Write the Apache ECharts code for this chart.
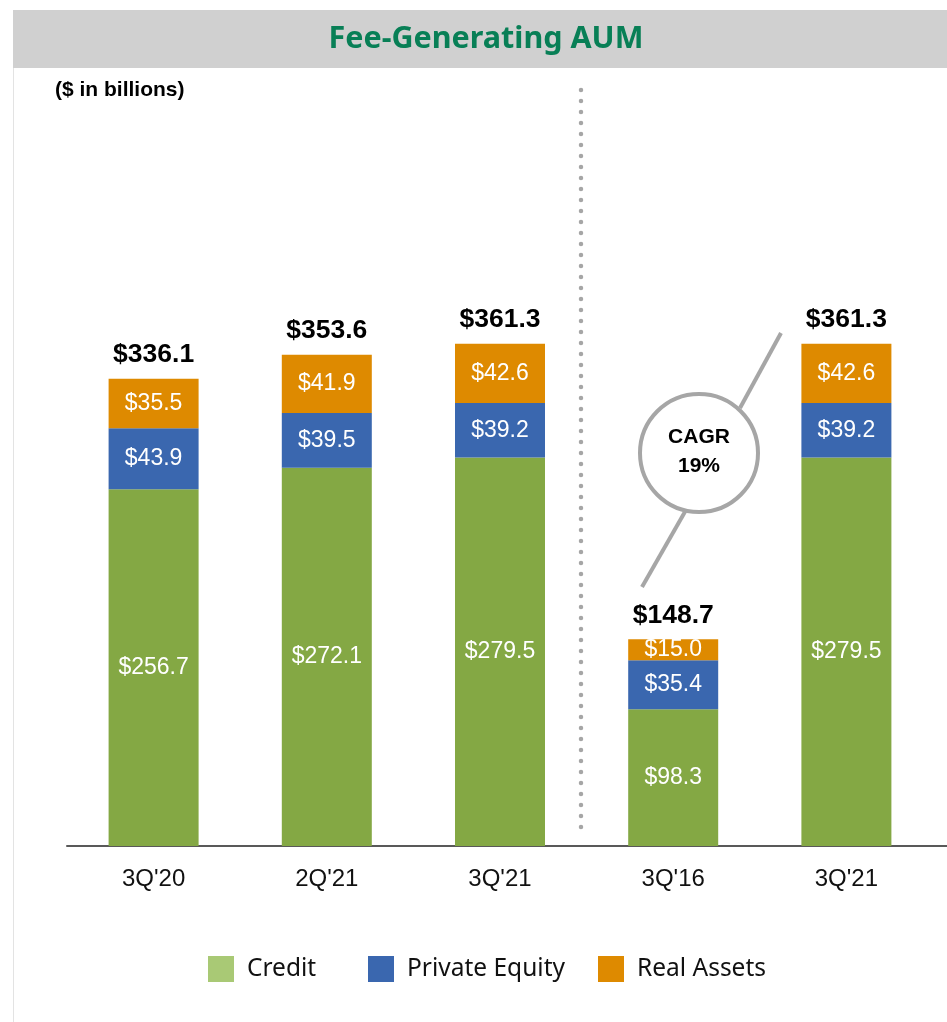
<!DOCTYPE html>
<html>
<head>
<meta charset="utf-8">
<script src="https://cdn.jsdelivr.net/npm/echarts@6/dist/echarts.min.js"></script>
<style>
html,body{margin:0;padding:0;background:#fff;}
#chart{width:947px;height:1022px;}
</style>
</head>
<body>
<div id="chart"></div>
<script>
const categories = ["3Q'20", "2Q'21", "3Q'21", "3Q'16", "3Q'21 "];
const credit = [256.7, 272.1, 279.5, 98.3, 279.5];
const privateEquity = [43.9, 39.5, 39.2, 35.4, 39.2];
const realAssets = [35.5, 41.9, 42.6, 15.0, 42.6];
const totals = [336.1, 353.6, 361.3, 148.7, 361.3];
const seriesNames = ["Credit", "Private Equity", "Real Assets"];
const cagrText = ["CAGR", "19%"];

const GREEN = '#84A844', BLUE = '#3A67AF', ORANGE = '#DE8A00', LEGEND_GREEN = '#A9C975';
const GRAY = '#A6A6A6';
const SANS = '"Liberation Sans", Arial, sans-serif';

const chart = echarts.init(document.getElementById('chart'), null, {renderer: 'canvas'});

const segLabel = {
  show: true, position: 'inside', color: '#fff',
  fontFamily: SANS, fontSize: 23,
  formatter: p => '$' + p.value.toFixed(1)
};

function legendFor(name, color, left) {
  return {
    show: true, left: left, top: 956, padding: 0, icon: 'rect',
    itemWidth: 26, itemHeight: 26, selectedMode: false,
    data: [{name: name, itemStyle: {color: color}}],
    textStyle: {fontFamily: 'Noto Sans', fontSize: 24.5, color: '#111', padding: [0, 0, 0, 8]}
  };
}

const option = {
  backgroundColor: '#fff',
  animation: false,
  grid: {left: 67, width: 866, top: 290, height: 556},
  xAxis: {
    type: 'category', data: categories,
    axisLine: {lineStyle: {color: '#595959', width: 2}},
    axisTick: {show: false},
    axisLabel: {fontFamily: SANS, fontSize: 24, color: '#111', margin: 21,
      formatter: v => v.trim()}
  },
  yAxis: {type: 'value', min: 0, max: 400, show: false, splitLine: {show: false}},
  legend: [
    legendFor(seriesNames[0], LEGEND_GREEN, 208),
    legendFor(seriesNames[1], BLUE, 368),
    legendFor(seriesNames[2], ORANGE, 598)
  ],
  series: [
    {name: seriesNames[0], type: 'bar', stack: 'aum', data: credit, barWidth: 90,
     itemStyle: {color: GREEN}, label: segLabel},
    {name: seriesNames[1], type: 'bar', stack: 'aum', data: privateEquity, barWidth: 90,
     itemStyle: {color: BLUE}, label: segLabel},
    {name: seriesNames[2], type: 'bar', stack: 'aum', data: realAssets, barWidth: 90,
     itemStyle: {color: ORANGE}, label: segLabel},
    {name: 'Total', type: 'scatter', data: totals, symbolSize: 1,
     itemStyle: {color: 'transparent', opacity: 1}, silent: true,
     label: {show: true, position: 'top', distance: 10, color: '#000', opacity: 1,
       fontFamily: SANS, fontWeight: 'bold', fontSize: 26.5,
       formatter: p => '$' + p.value.toFixed(1)}}
  ],
  graphic: [
    {type: 'rect', shape: {x: 13, y: 10, width: 934, height: 58}, style: {fill: '#D0D0D0'}, z: 0},
    {type: 'line', shape: {x1: 13.5, y1: 68, x2: 13.5, y2: 1022}, style: {stroke: '#E3E3E3', lineWidth: 1}},
    {type: 'text', x: 486, y: 39, style: {text: 'Fee-Generating AUM', fill: '#087F56',
      font: 'bold 30.5px "Noto Sans", sans-serif', textAlign: 'center', textVerticalAlign: 'middle'}},
    {type: 'text', x: 55, y: 90, style: {text: '($ in billions)', fill: '#000',
      font: 'bold 21px ' + SANS, textAlign: 'left', textVerticalAlign: 'middle'}},
    {type: 'line', shape: {x1: 581, y1: 90, x2: 581, y2: 828},
      style: {stroke: GRAY, lineWidth: 4.5, lineDash: [0.1, 10.9], lineCap: 'round'}},
    {type: 'line', shape: {x1: 933, y1: 846, x2: 947, y2: 846}, style: {stroke: '#595959', lineWidth: 2}},
    {type: 'line', shape: {x1: 781, y1: 333, x2: 740, y2: 408}, style: {stroke: GRAY, lineWidth: 4}},
    {type: 'line', shape: {x1: 686, y1: 510, x2: 642, y2: 587}, style: {stroke: GRAY, lineWidth: 4}},
    {type: 'circle', shape: {cx: 699, cy: 453, r: 59}, style: {fill: '#fff', stroke: GRAY, lineWidth: 4}, z: 10},
    {type: 'text', x: 699, y: 437, z: 11, style: {text: cagrText[0], fill: '#000',
      font: 'bold 21px ' + SANS, textAlign: 'center', textVerticalAlign: 'middle'}},
    {type: 'text', x: 699, y: 466, z: 11, style: {text: cagrText[1], fill: '#000',
      font: 'bold 21px ' + SANS, textAlign: 'center', textVerticalAlign: 'middle'}}
  ]
};
chart.setOption(option);
</script>
</body>
</html>
